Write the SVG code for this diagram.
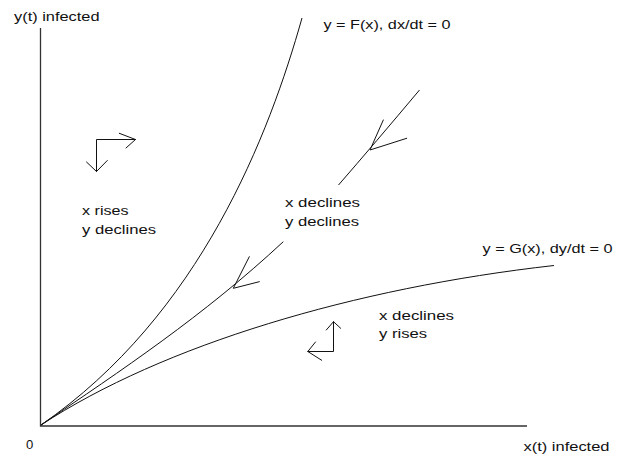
<svg xmlns="http://www.w3.org/2000/svg" width="626" height="457" viewBox="0 0 626 457">
<style>
text{font-family:"Liberation Sans",Arial,sans-serif;font-size:13px;fill:#111}
.ax{stroke:#333;stroke-width:1.3;fill:none}
.cv{stroke:#111;stroke-width:1;fill:none}
.ar{stroke:#111;stroke-width:1;fill:none;stroke-linecap:round}
</style>
<rect width="626" height="457" fill="#fff"/>
<g id="axes">
<path class="ax" d="M40.5,28 V426 H527"/>
<text x="14" y="21" textLength="85.5" lengthAdjust="spacingAndGlyphs">y(t) infected</text>
<text x="523.5" y="451" textLength="86" lengthAdjust="spacingAndGlyphs">x(t) infected</text>
<text x="26" y="448.5" textLength="7.3" lengthAdjust="spacingAndGlyphs">0</text>
</g>
<g id="curve-F">
<path class="cv" d="M41,425 C201,314.6 269.6,133.2 302,18"/>
<text x="323.5" y="28.5" textLength="127" lengthAdjust="spacingAndGlyphs">y = F(x), dx/dt = 0</text>
</g>
<g id="curve-G">
<path class="cv" d="M41,425 C163,345 354,288 554,265.5"/>
<text x="482.5" y="253" textLength="130" lengthAdjust="spacingAndGlyphs">y = G(x), dy/dt = 0</text>
</g>
<g id="connectors">
<path id="trajectory-upper" class="cv" d="M419.5,90 Q375,143 338.5,185"/>
<path id="trajectory-lower" class="cv" d="M283.3,241.7 C203.3,316.1 121,370.6 41,425"/>
<path class="ar" d="M383.3,120 L370,150 L406.7,138.3"/>
<path class="ar" d="M249.3,256.7 L233.3,288.3 L259.3,281.7"/>
</g>
<g id="region-left">
<path class="ar" d="M135.5,139.5 H96.5 V171.5"/>
<path class="ar" d="M119.3,133.3 L135.5,139.5 L126,148"/>
<path class="ar" d="M86.5,162 L96.5,171.5 L107.3,160.5"/>
<text x="82" y="214.5" textLength="46.5" lengthAdjust="spacingAndGlyphs">x rises</text>
<text x="82" y="233.5" textLength="74" lengthAdjust="spacingAndGlyphs">y declines</text>
</g>
<g id="region-middle">
<text x="285" y="207" textLength="75" lengthAdjust="spacingAndGlyphs">x declines</text>
<text x="285" y="226" textLength="74" lengthAdjust="spacingAndGlyphs">y declines</text>
</g>
<g id="region-lower">
<path class="ar" d="M333.5,321.7 V351.5 H307.8"/>
<path class="ar" d="M326.3,330 L333.5,321.7 L340.7,328.3"/>
<path class="ar" d="M315.5,342 L307.8,351.5 L321.7,360.3"/>
<text x="379" y="319.5" textLength="75" lengthAdjust="spacingAndGlyphs">x declines</text>
<text x="379" y="338" textLength="48" lengthAdjust="spacingAndGlyphs">y rises</text>
</g>
</svg>
